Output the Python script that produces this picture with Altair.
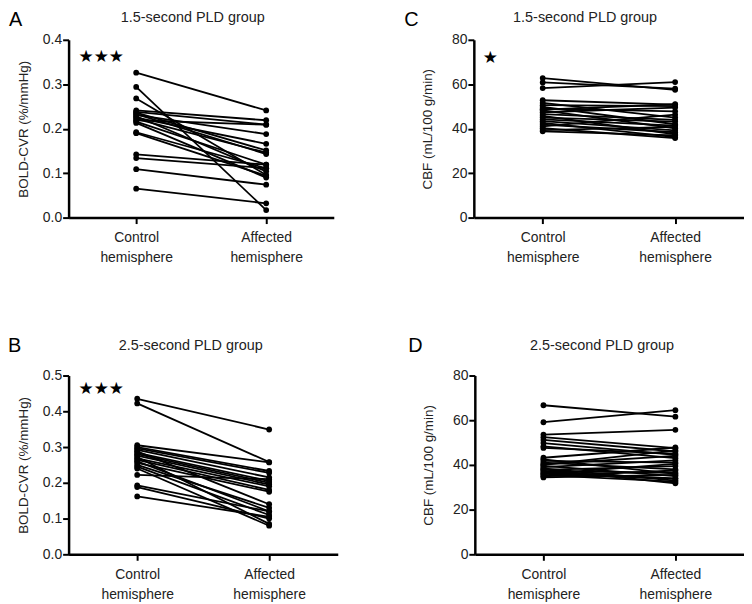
import altair as alt
import pandas as pd

groups = ["Control hemisphere", "Affected hemisphere"]

# Panel A: BOLD-CVR, 1.5-second PLD group
a_ctrl = [0.326, 0.294, 0.268, 0.241, 0.238, 0.236, 0.233, 0.231, 0.228, 0.225,
          0.222, 0.219, 0.216, 0.213, 0.192, 0.190, 0.142, 0.134, 0.109, 0.065]
a_aff = [0.241, 0.017, 0.096, 0.219, 0.209, 0.151, 0.143, 0.188, 0.104, 0.166,
         0.146, 0.209, 0.119, 0.090, 0.111, 0.094, 0.119, 0.111, 0.074, 0.032]

# Panel B: BOLD-CVR, 2.5-second PLD group
b_ctrl = [0.435, 0.422, 0.305, 0.300, 0.296, 0.292, 0.288, 0.284, 0.280, 0.276, 0.272,
          0.268, 0.264, 0.260, 0.256, 0.250, 0.245, 0.240, 0.222, 0.193, 0.188, 0.162]
b_aff = [0.349, 0.258, 0.257, 0.233, 0.228, 0.215, 0.140, 0.205, 0.200, 0.195, 0.085,
         0.190, 0.180, 0.120, 0.175, 0.130, 0.110, 0.080, 0.210, 0.120, 0.100, 0.105]

# Panel C: CBF, 1.5-second PLD group
c_ctrl = [62.8, 60.8, 58.3, 52.8, 51.6, 50.6, 49.8, 49.0, 48.2, 47.4, 46.6,
          45.8, 45.0, 44.2, 43.4, 42.6, 41.8, 41.0, 40.2, 39.4, 38.8, 48.6]
c_aff = [57.5, 58.0, 61.0, 50.8, 45.0, 50.2, 42.0, 47.8, 40.2, 49.5, 44.0,
         37.5, 43.2, 41.4, 39.2, 36.2, 38.4, 46.3, 35.8, 40.8, 37.0, 51.0]

# Panel D: CBF, 2.5-second PLD group
d_ctrl = [66.7, 59.1, 53.6, 52.4, 51.2, 49.8, 48.3, 47.6, 43.2, 42.5, 41.8, 41.0, 40.3,
          39.6, 39.0, 38.4, 37.8, 37.2, 36.6, 36.0, 35.4, 34.9, 34.4, 40.0, 38.0, 36.0]
d_aff = [61.6, 64.5, 55.7, 47.5, 46.0, 44.5, 43.0, 45.0, 47.8, 36.0, 41.0, 38.0, 44.0,
         35.0, 42.0, 33.0, 39.5, 36.5, 34.0, 40.5, 32.5, 37.5, 35.5, 46.5, 31.8, 33.8]

FONT = "Liberation Sans"


def panel(ctrl, aff, ymax, ystep, fmt, ytitle, title, letter, stars, star_y, star_x,
          width, height, letter_x, letter_y, title_x, title_y, title_pad):
    n = len(ctrl)
    df = pd.DataFrame({
        "subject": list(range(n)) * 2,
        "group": [groups[0]] * n + [groups[1]] * n,
        "value": ctrl + aff,
    })
    ticks = [round(i * ystep, 4) for i in range(int(round(ymax / ystep)) + 1)]
    x = alt.X("group:N", sort=groups,
              scale=alt.Scale(type="point", padding=0.52),
              axis=alt.Axis(title=None, labelExpr="split(datum.label, ' ')",
                            labelAngle=0, labelPadding=7, labelLineHeight=20,
                            tickSize=6))
    y = alt.Y("value:Q", scale=alt.Scale(domain=[0, ymax], nice=False),
              axis=alt.Axis(values=ticks, tickCount=len(ticks) + 2, format=fmt,
                            title=ytitle, labelOverlap=False,
                            labelPadding=1, titlePadding=title_pad, tickSize=6))
    base = alt.Chart(df)
    lines = base.mark_line(color="black", strokeWidth=1.8).encode(
        x=x, y=y, detail="subject:N")
    pts = base.mark_circle(color="black", size=34, opacity=1).encode(x=x, y=y)
    layers = [lines, pts]
    if stars:
        star = alt.Chart(pd.DataFrame({"t": [stars]})).mark_text(
            font="DejaVu Sans", fontSize=17, align="left", baseline="middle", color="black"
        ).encode(x=alt.value(star_x), y=alt.datum(star_y), text="t:N")
        layers.append(star)
    let = alt.Chart(pd.DataFrame({"t": [letter]})).mark_text(
        font=FONT, fontSize=20, align="left", baseline="middle", color="black"
    ).encode(x=alt.value(letter_x), y=alt.value(letter_y), text="t:N")
    ttl = alt.Chart(pd.DataFrame({"t": [title]})).mark_text(
        font=FONT, fontSize=14.5, align="center", baseline="middle", color="#222"
    ).encode(x=alt.value(title_x), y=alt.value(title_y), text="t:N")
    layers += [let, ttl]
    return alt.layer(*layers).properties(width=width, height=height)


A = panel(a_ctrl, a_aff, 0.4, 0.1, ".1f", "BOLD-CVR (%/mmHg)", "1.5-second PLD group",
          "A", "★★★", 0.362, 10, 267, 179, -60, -20, 125, -22, 12)
C = panel(c_ctrl, c_aff, 80, 20, "d", "CBF (mL/100 g/min)", "1.5-second PLD group",
          "C", "★", 72, 9, 272, 179, -70, -20, 112, -22, 17)
B = panel(b_ctrl, b_aff, 0.5, 0.1, ".1f", "BOLD-CVR (%/mmHg)", "2.5-second PLD group",
          "B", "★★★", 0.462, 10, 271, 180, -61, -30, 123, -30, 12)
D = panel(d_ctrl, d_aff, 80, 20, "d", "CBF (mL/100 g/min)", "2.5-second PLD group",
          "D", "", 72, 9, 271, 180, -67, -30, 128, -30, 17)

chart = alt.vconcat(
    alt.hconcat(A, C, spacing=71),
    alt.hconcat(B, D, spacing=71),
    spacing=72,
).properties(padding=0).configure_view(
    stroke=None).configure_axis(
    labelFont=FONT, labelFontSize=14, labelColor="#222",
    titleFont=FONT, titleFontSize=13.5, titleFontWeight="normal", titleColor="#222",
    domainColor="black", domainWidth=2.5, tickColor="black", tickWidth=2,
    grid=False,
)

chart.save("out.html", embed_options={"renderer": "svg", "actions": False})
